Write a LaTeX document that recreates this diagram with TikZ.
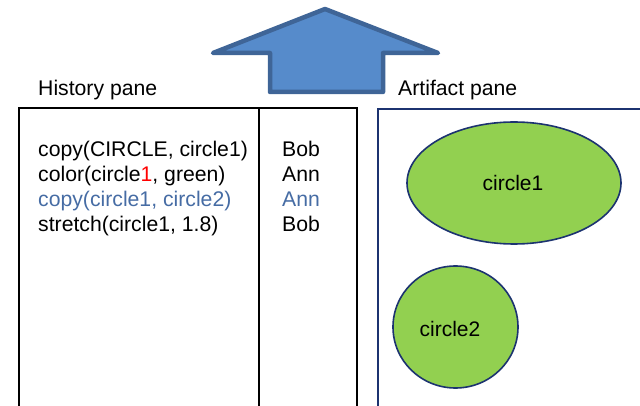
\documentclass[tikz,border=0pt]{standalone}
\usepackage{fontspec}
\setmainfont{Liberation Sans}
\usetikzlibrary{shapes.geometric}
\definecolor{arrowfill}{HTML}{568BCB}
\definecolor{arrowline}{HTML}{3F6597}
\definecolor{navy}{HTML}{1C3370}
\definecolor{leaf}{HTML}{92D050}
\definecolor{steel}{HTML}{466CA4}
\tikzset{
  txt/.style={inner sep=0pt, anchor=base west, font=\fontsize{21.2}{25}\selectfont},
  pane/.style={line width=2pt, draw=black},
  blob/.style={draw=navy, line width=1.6pt, fill=leaf, ellipse, inner sep=0pt}
}
\begin{document}
\begin{tikzpicture}[x=1pt,y=-1pt]
\useasboundingbox (0,0) rectangle (640,406);
% up arrow
\draw[fill=arrowfill, draw=arrowline, line width=4.5pt, line join=round]
  (325,9) -- (438,53) -- (383,53) -- (383,92) -- (270,92) -- (270,53) -- (213,53) -- cycle;
% labels
\node[txt] (hist) at (38,96) {History pane};
\node[txt] (art) at (398,96) {Artifact pane};
% history pane
\draw[pane] (19,406) -- (19,108) -- (357,108) -- (357,406);
\draw[pane] (259,108) -- (259,406);
% artifact pane
\draw[draw=navy, line width=2pt] (378,406) -- (378,109) -- (642,109);
% history lines
\node[txt] (l1) at (38,157) {copy(CIRCLE, circle1)};
\node[txt] (l2) at (38,182) {color(circle\textcolor{red}{1}, green)};
\node[txt, text=steel] (l3) at (38,207) {copy(circle1, circle2)};
\node[txt] (l4) at (38,232) {stretch(circle1, 1.8)};
\node[txt] (u1) at (282,157) {Bob};
\node[txt] (u2) at (282,182) {Ann};
\node[txt, text=steel] (u3) at (282,207) {Ann};
\node[txt] (u4) at (282,232) {Bob};
% shapes
\node[blob, minimum width=214pt, minimum height=122pt] (c1) at (514,183) {};
\node[font=\fontsize{21}{25}\selectfont] (c1t) at (513,183) {circle1};
\node[blob, minimum width=125pt, minimum height=122pt] (c2) at (455.5,327) {};
\node[font=\fontsize{21}{25}\selectfont] (c2t) at (450,329) {circle2};
\end{tikzpicture}
\end{document}
